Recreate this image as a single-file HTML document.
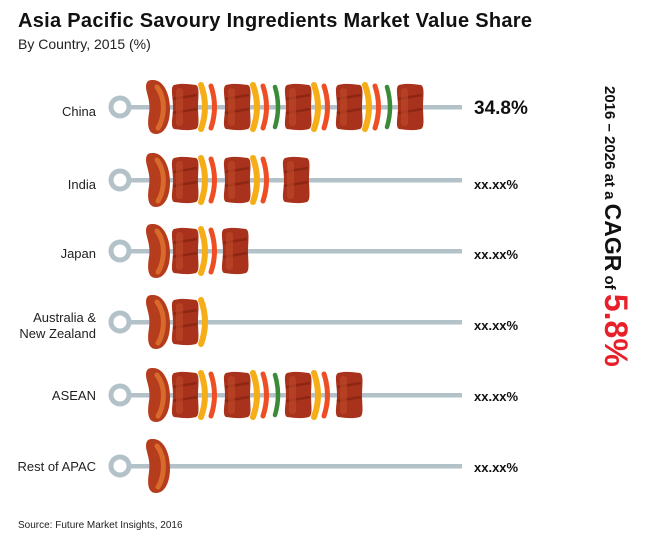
<!DOCTYPE html>
<html><head><meta charset="utf-8"><style>
html,body{margin:0;padding:0;background:#fff;}
svg{display:block;font-family:"Liberation Sans",Arial,sans-serif;}
</style></head><body>
<svg width="650" height="539" viewBox="0 0 650 539" xmlns="http://www.w3.org/2000/svg">
<defs>
<g id="saus"><path d="M-6,-27 C6,-28 12,-12 12,2 C12,16 7,27 -2,27 C-10,27 -11,18 -9,6 C-7,-6 -12,-14 -12,-20 C-12,-25 -10,-27 -6,-27Z" fill="#b53c1c"/><path d="M-1,-20 C5,-12 6,-2 5,6 C4,14 2,18 0,21" fill="none" stroke="#d86a2c" stroke-width="5" stroke-linecap="round"/></g>
<g id="meat"><path d="M-11,-22 C-4,-24 4,-23 11,-22 C15,-20 13,-10 13,0 C13,10 15,20 11,22 C4,24 -4,23 -11,22 C-15,20 -12,10 -12,0 C-12,-10 -15,-20 -11,-22Z" fill="#a8321c"/><path d="M-12,-8 L12,-12 M-12,6 L12,2" stroke="#8e2614" stroke-width="2.5"/><rect x="-9" y="-19" width="7" height="38" rx="3" fill="#c04a28" opacity="0.6"/></g>
<path id="y" d="M-3,-22 Q5,0 -3,22" fill="none" stroke="#f5ae17" stroke-width="6" stroke-linecap="round"/>
<path id="o" d="M-3,-21 Q4,0 -3,21" fill="none" stroke="#ee4e24" stroke-width="5" stroke-linecap="round"/>
<path id="g" d="M-2,-20 Q4,0 -2,20" fill="none" stroke="#3b8a35" stroke-width="4.5" stroke-linecap="round"/>
<g id="stick"><circle cx="120" cy="0" r="9" fill="none" stroke="#b3c2c8" stroke-width="5"/><rect x="128" y="-2" width="334" height="4.5" fill="#b3c2c8"/></g>
</defs>
<text x="18" y="27" font-size="20" font-weight="bold" fill="#111" textLength="514">Asia Pacific Savoury Ingredients Market Value Share</text>
<text x="18" y="49" font-size="14" fill="#222">By Country, 2015 (%)</text>

<g font-size="13" fill="#222" text-anchor="end">
<text x="96" y="116">China</text>
<text x="96" y="189">India</text>
<text x="96" y="258">Japan</text>
<text x="96" y="322">Australia &amp;</text>
<text x="96" y="338">New Zealand</text>
<text x="96" y="400">ASEAN</text>
<text x="96" y="471">Rest of APAC</text>
</g>
<g font-weight="bold" fill="#111">
<text x="474" y="114" font-size="19">34.8%</text>
<g font-size="13"><text x="474" y="189">xx.xx%</text><text x="474" y="259">xx.xx%</text><text x="474" y="330">xx.xx%</text><text x="474" y="401">xx.xx%</text><text x="474" y="472">xx.xx%</text></g>
</g>

<g transform="translate(0,107)"><use href="#stick"/>
<use href="#saus" x="158"/><use href="#meat" x="185"/><use href="#y" x="204"/><use href="#o" x="214"/><use href="#meat" x="237"/><use href="#y" x="256"/><use href="#o" x="266"/><use href="#g" x="277"/><use href="#meat" x="298"/><use href="#y" x="317"/><use href="#o" x="327"/><use href="#meat" x="349"/><use href="#y" x="368"/><use href="#o" x="378"/><use href="#g" x="389"/><use href="#meat" x="410"/></g>
<g transform="translate(0,180)"><use href="#stick"/>
<use href="#saus" x="158"/><use href="#meat" x="185"/><use href="#y" x="204"/><use href="#o" x="214"/><use href="#meat" x="237"/><use href="#y" x="256"/><use href="#o" x="266"/><use href="#meat" x="296"/></g>
<g transform="translate(0,251)"><use href="#stick"/>
<use href="#saus" x="158"/><use href="#meat" x="185"/><use href="#y" x="204"/><use href="#o" x="214"/><use href="#meat" x="235"/></g>
<g transform="translate(0,322)"><use href="#stick"/>
<use href="#saus" x="158"/><use href="#meat" x="185"/><use href="#y" x="204"/></g>
<g transform="translate(0,395)"><use href="#stick"/>
<use href="#saus" x="158"/><use href="#meat" x="185"/><use href="#y" x="204"/><use href="#o" x="214"/><use href="#meat" x="237"/><use href="#y" x="256"/><use href="#o" x="266"/><use href="#g" x="277"/><use href="#meat" x="298"/><use href="#y" x="317"/><use href="#o" x="327"/><use href="#meat" x="349"/></g>
<g transform="translate(0,466)"><use href="#stick"/>
<use href="#saus" x="158"/></g>

<text transform="translate(605,86) rotate(90)" font-weight="bold" fill="#111"><tspan font-size="15">2016 – 2026 at a </tspan><tspan font-size="23">CAGR</tspan><tspan font-size="15"> of </tspan><tspan font-size="32" fill="#e8202a">5.8%</tspan></text>

<text x="18" y="528" font-size="10" fill="#222">Source: Future Market Insights, 2016</text>
</svg>
</body></html>
